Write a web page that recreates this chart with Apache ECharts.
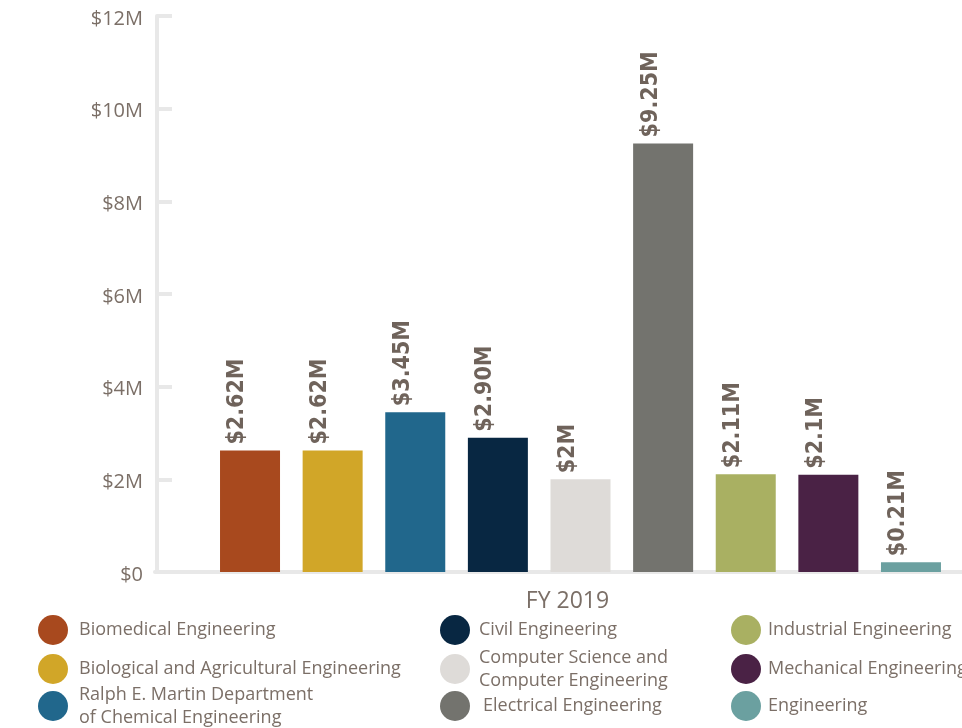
<!DOCTYPE html>
<html>
<head>
<meta charset="utf-8">
<title>Research Expenditures by Department, FY 2019</title>
<script src="https://cdn.jsdelivr.net/npm/echarts@6/dist/echarts.min.js"></script>
<style>
  html, body { margin: 0; padding: 0; background: #ffffff; }
  #chart { width: 962px; height: 728px; }
</style>
</head>
<body>
<div id="chart"></div>
<script>
// Fiscal year shown on the category axis
const categories = ['FY 2019'];

// Departments, in bar order
const departments = [
  'Biomedical Engineering',
  'Biological and Agricultural Engineering',
  'Ralph E. Martin Department\nof Chemical Engineering',
  'Civil Engineering',
  'Computer Science and\nComputer Engineering',
  'Electrical Engineering',
  'Industrial Engineering',
  'Mechanical Engineering',
  'Engineering'
];

// Expenditures in millions of dollars
const expenditures = [2.62, 2.62, 3.45, 2.90, 2, 9.25, 2.11, 2.1, 0.21];

// Decimal places used when printing each value
const labelDecimals = [2, 2, 2, 2, 0, 2, 2, 1, 2];

// Department colours
const colors = ['#a8491e', '#d1a628', '#21678c', '#082742', '#dedbd8',
                '#73736e', '#a9b062', '#4a2245', '#6ba0a0'];

// Y axis tick values (millions) and their labels
const yTicks = [0, 2, 4, 6, 8, 10, 12];
const yTickLabels = ['$0', '$2M', '$4M', '$6M', '$8M', '$10M', '$12M'];

const textColor = '#7b6f67';
const axisGray = '#e8e8e8';
const fontFamily = '"Open Sans", Lato, sans-serif';

// Legend layout: three columns, three rows
const legendCols = [38, 440, 731];
const legendRowCenters = [630, 669, 706];
const legendLineHeight = 23;

const series = departments.map((name, i) => ({
  name: name,
  type: 'bar',
  data: [expenditures[i]],
  barWidth: 60,
  barGap: '37.7%',
  itemStyle: { color: colors[i] },
  label: {
    show: true,
    position: 'top',
    distance: 6,
    rotate: 90,
    align: 'left',
    verticalAlign: 'middle',
    offset: [0, -12.5],
    color: '#6f635b',
    fontFamily: '"DejaVu Sans Condensed", "DejaVu Sans", sans-serif',
    fontWeight: 'bold',
    fontSize: 23,
    formatter: () => '$' + expenditures[i].toFixed(labelDecimals[i]) + 'M'
  }
}));

const legends = departments.map((name, i) => {
  const col = Math.floor(i / 3);
  const row = i % 3;
  const lines = name.split('\n').length;
  const half = Math.max(15, lines * legendLineHeight / 2);
  const extraPad = (name === 'Electrical Engineering') ? 8 : [6, 4, 2][col];
  return {
    data: [name],
    left: legendCols[col],
    top: legendRowCenters[row] - half,
    padding: 0,
    orient: 'vertical',
    icon: 'circle',
    itemWidth: 30,
    itemHeight: 30,
    selectedMode: false,
    textStyle: {
      color: textColor,
      fontFamily: fontFamily,
      fontSize: 18,
      lineHeight: legendLineHeight,
      padding: [0, 0, 0, extraPad]
    }
  };
});

const chart = echarts.init(document.getElementById('chart'), null, { renderer: 'canvas' });
chart.setOption({
  animation: false,
  backgroundColor: '#ffffff',
  grid: [
    // plotting area for the bars
    { left: 199, top: 16, right: 0, bottom: 156, containLabel: false },
    // full-width baseline running under the value axis
    { left: 155, top: 16, right: 0, bottom: 156, containLabel: false }
  ],
  xAxis: [
    {
      type: 'category',
      gridIndex: 0,
      data: categories,
      axisLine: { show: false },
      axisTick: { show: false },
      axisLabel: {
        color: textColor,
        fontFamily: fontFamily,
        fontSize: 23,
        margin: 18,
        padding: [0, 26, 0, 0]
      }
    },
    {
      type: 'value',
      gridIndex: 1,
      min: 0,
      max: 1,
      axisLine: { show: true, lineStyle: { color: axisGray, width: 4 } },
      axisTick: { show: false },
      axisLabel: { show: false },
      splitLine: { show: false }
    }
  ],
  yAxis: [
    {
      type: 'value',
      gridIndex: 0,
      offset: 42,
      min: yTicks[0],
      max: yTicks[yTicks.length - 1],
      interval: yTicks[1] - yTicks[0],
      axisLine: { show: true, lineStyle: { color: axisGray, width: 4 } },
      axisTick: { show: true, inside: true, length: 15, lineStyle: { color: axisGray, width: 4 } },
      splitLine: { show: false },
      axisLabel: {
        color: textColor,
        fontFamily: fontFamily,
        fontSize: 20,
        margin: 14,
        formatter: (v) => '{t|' + yTickLabels[yTicks.indexOf(v)] + '}',
        rich: {
          t: {
            color: textColor,
            fontFamily: fontFamily,
            fontSize: 20,
            padding: [6, 0, 0, 0]
          }
        }
      }
    },
    {
      type: 'value',
      gridIndex: 1,
      show: false
    }
  ],
  legend: legends,
  series: series
});
</script>
</body>
</html>
